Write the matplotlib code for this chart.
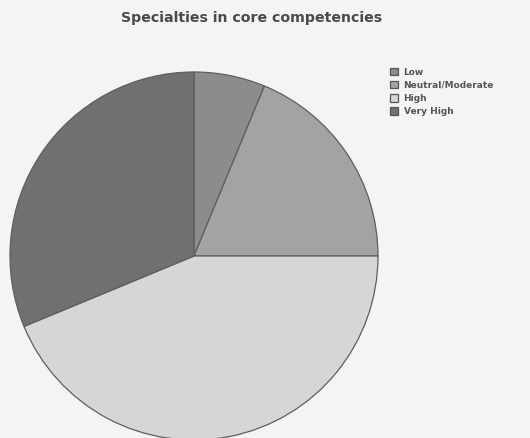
import matplotlib
matplotlib.use("Agg")
import matplotlib.pyplot as plt
from matplotlib.patches import Patch

# Survey responses: self-rated specialties in core competencies
categories = ["Low", "Neutral/Moderate", "High", "Very High"]
counts = [4, 12, 28, 20]
colors = ["#8b8d8b", "#a3a3a3", "#d6d6d6", "#707070"]

W, H, DPI = 530, 438, 100
fig = plt.figure(figsize=(W / DPI, H / DPI), dpi=DPI, facecolor="#f4f4f4")

# Pie area: square box in pixel units
cx, cy, r = 194, 256, 184
ax = fig.add_axes([(cx - r) / W, (H - cy - r) / H, 2 * r / W, 2 * r / H])
ax.set_facecolor("none")
ax.pie(counts, colors=colors, startangle=90, counterclock=False,
       wedgeprops=dict(edgecolor="#5e5e5e", linewidth=0.9))
ax.set_xlim(-1, 1)
ax.set_ylim(-1, 1)
ax.set_aspect("equal")
ax.axis("off")

fig.text(252 / W, 1 - 18 / H, "Specialties in core competencies", ha="center", va="center",
         fontsize=10.2, fontweight="heavy", color="#4a4a4a")

handles = [Patch(facecolor=c, edgecolor="#555555", linewidth=0.9, label=l)
           for c, l in zip(colors, categories)]
leg = fig.legend(handles=handles, loc="upper left",
                 bbox_to_anchor=(386 / W, 1 - 64 / H), frameon=False,
                 fontsize=6.5, handlelength=0.95, handleheight=0.95,
                 handletextpad=0.6, labelspacing=0.45, borderaxespad=0)
for t in leg.get_texts():
    t.set_color("#555555")
    t.set_fontweight("bold")

fig.savefig("out.png", dpi=DPI, facecolor=fig.get_facecolor())
